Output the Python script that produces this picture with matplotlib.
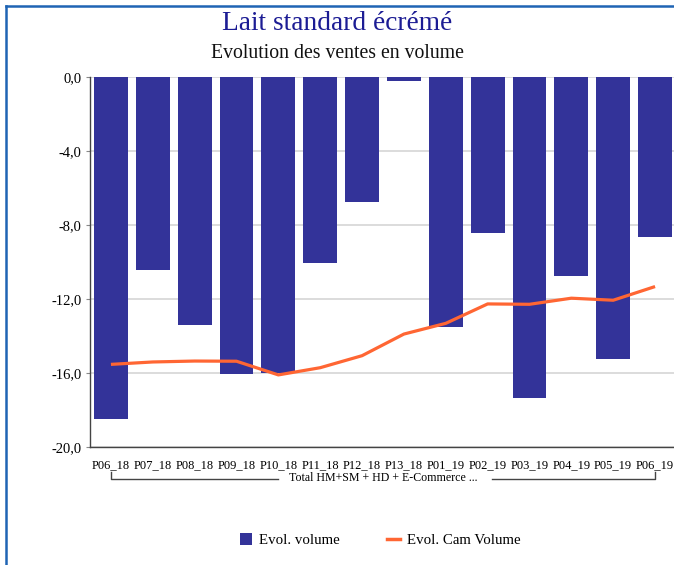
import numpy as np
import matplotlib
matplotlib.use("Agg")
import matplotlib.pyplot as plt
from matplotlib.lines import Line2D
from matplotlib.patches import Patch

periods = ["P06_18", "P07_18", "P08_18", "P09_18", "P10_18", "P11_18", "P12_18",
           "P13_18", "P01_19", "P02_19", "P03_19", "P04_19", "P05_19", "P06_19"]
evol_volume = [-18.5, -10.4, -13.4, -16.05, -15.98, -10.06, -6.72,
               -0.2, -13.5, -8.43, -17.33, -10.75, -15.22, -8.65]
evol_cam_volume = [-15.53, -15.40, -15.35, -15.36, -16.1, -15.71, -15.06,
                   -13.89, -13.31, -12.26, -12.28, -11.95, -12.06, -11.32]
yticks = [0, -4, -8, -12, -16, -20]
group_label = "Total HM+SM + HD + E-Commerce ..."

bar_color = "#333399"
line_color = "#ff6633"
font = "Liberation Serif"

plt.rcParams["font.family"] = [font, "DejaVu Serif"]

W, H = 674, 565
fig = plt.figure(figsize=(W / 100, H / 100), dpi=100)
ax = fig.add_axes([90 / W, 1 - 447 / H, 586 / W, (447 - 77.3) / H])

x = np.arange(len(periods))
ax.bar(x, evol_volume, width=0.81, color=bar_color, zorder=2)
ax.plot(x, evol_cam_volume, color=line_color, linewidth=2.3, zorder=3,
        solid_capstyle="butt")

ax.set_xlim(-0.5, len(periods) - 0.5)
ax.set_ylim(-20, 0)
ax.set_yticks(yticks)
ax.set_yticklabels([f"{v:.1f}".replace(".", ",") for v in yticks], fontsize=10.5)
ax.set_xticks(x)
ax.set_xticklabels(periods, fontsize=9)
ax.tick_params(axis="x", length=0, pad=8.5)
ax.tick_params(axis="y", length=3, color="#888888", pad=3)

ax.grid(axis="y", color="#d6d6d6", linewidth=1.2, zorder=0)
ax.set_axisbelow(True)
for s in ["top", "right"]:
    ax.spines[s].set_visible(False)
for s in ["left", "bottom"]:
    ax.spines[s].set_color("#444444")
    ax.spines[s].set_linewidth(1.0)

# group bracket under the tick labels
tr = ax.get_xaxis_transform()
y_top, y_bot = -0.0676, -0.0875
ax.plot([0, 0, 4.0], [y_top, y_bot, y_bot], color="#444444", lw=1.0,
        transform=tr, clip_on=False)
ax.plot([9.1, 13, 13], [y_bot, y_bot, y_top], color="#444444", lw=1.0,
        transform=tr, clip_on=False)
ax.text(6.5, -0.0825, group_label, transform=tr, ha="center", va="center",
        fontsize=8.6)

# titles
fig.text(0.5, 1 - 24 / H, "Lait standard écrémé", ha="center", va="center",
         fontsize=19.7, color="#1c1c94")
fig.text(0.5, 1 - 53.5 / H, "Evolution des ventes en volume", ha="center",
         va="center", fontsize=14.2, color="#111111")

# legend
handles = [Patch(facecolor=bar_color, edgecolor="none"),
           Line2D([], [], color=line_color, linewidth=2.5)]
fig.legend(handles, ["Evol. volume", "Evol. Cam Volume"], loc="center",
           bbox_to_anchor=(380 / W, 1 - 540 / H), ncol=2, frameon=False,
           fontsize=10.7, handlelength=0.85, handleheight=0.85,
           handletextpad=0.45, columnspacing=3.2)

# frame border on left and top
bc = "#1f64b4"
fig.add_artist(Line2D([6 / W, 6 / W], [0, 1 - 5.5 / H], color=bc, lw=1.8,
                      transform=fig.transFigure))
fig.add_artist(Line2D([6 / W, 1], [1 - 5.5 / H, 1 - 5.5 / H], color=bc, lw=1.8,
                      transform=fig.transFigure))

fig.savefig("out.png", dpi=100)
